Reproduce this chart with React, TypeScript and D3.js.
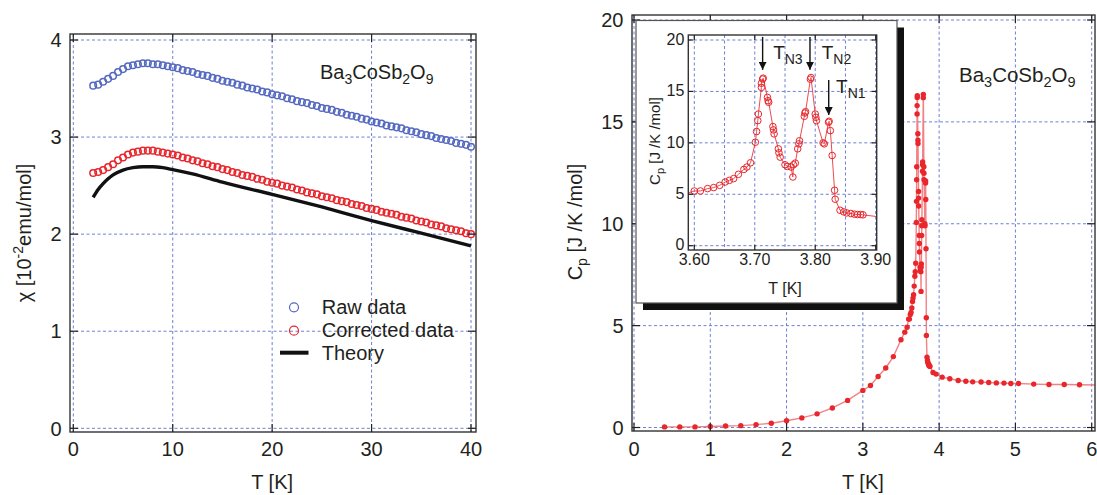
import React from "react";
import * as d3 from "d3";

const FONT = "'Liberation Sans', Arial, Helvetica, sans-serif";
const TEXT = "#231f20";
const GRID = "#6f80d2";
const BLUE = "#5569c0";
const RED = "#e8262c";

// ---------- Left panel: susceptibility ----------
const chiT = [
  2, 2.5, 3, 3.5, 4, 4.5, 5, 5.5, 6, 6.5, 7, 7.5, 8, 8.5, 9, 9.5, 10,
  10.5, 11, 11.5, 12, 12.5, 13, 13.5, 14, 14.5, 15, 15.5, 16, 16.5, 17, 17.5, 18, 18.5, 19, 19.5, 20,
  20.5, 21, 21.5, 22, 22.5, 23, 23.5, 24, 24.5, 25, 25.5, 26, 26.5, 27, 27.5, 28, 28.5, 29, 29.5, 30,
  30.5, 31, 31.5, 32, 32.5, 33, 33.5, 34, 34.5, 35, 35.5, 36, 36.5, 37, 37.5, 38, 38.5, 39, 39.5, 40,
];
const rawChi = [
  3.53, 3.54, 3.57, 3.6, 3.63, 3.67, 3.7, 3.73, 3.74, 3.75, 3.76, 3.76, 3.75, 3.75, 3.74, 3.73, 3.72,
  3.71, 3.69, 3.68, 3.67, 3.65, 3.64, 3.63, 3.61, 3.6, 3.58, 3.57, 3.56, 3.54, 3.53, 3.51, 3.5, 3.49, 3.47, 3.46, 3.44,
  3.43, 3.42, 3.4, 3.39, 3.37, 3.36, 3.35, 3.33, 3.32, 3.3, 3.29, 3.28, 3.26, 3.25, 3.23, 3.22, 3.21, 3.19, 3.18, 3.16,
  3.15, 3.14, 3.12, 3.11, 3.1, 3.09, 3.07, 3.06, 3.05, 3.03, 3.02, 3.01, 2.99, 2.98, 2.97, 2.96, 2.94, 2.93, 2.92, 2.9,
];
const corrChi = [
  2.63, 2.64, 2.66, 2.69, 2.72, 2.76, 2.79, 2.82, 2.84, 2.85, 2.86, 2.86, 2.86, 2.85, 2.84, 2.83, 2.82,
  2.81, 2.79, 2.78, 2.76, 2.75, 2.73, 2.72, 2.7, 2.69, 2.67, 2.66, 2.64, 2.63, 2.61, 2.6, 2.59, 2.57, 2.56, 2.54, 2.53,
  2.52, 2.5, 2.49, 2.48, 2.46, 2.45, 2.43, 2.42, 2.41, 2.39, 2.38, 2.37, 2.35, 2.34, 2.33, 2.31, 2.3, 2.29, 2.27, 2.26,
  2.25, 2.23, 2.22, 2.21, 2.2, 2.18, 2.17, 2.16, 2.14, 2.13, 2.12, 2.1, 2.09, 2.08, 2.06, 2.05, 2.04, 2.03, 2.01, 2.0,
];
const theoryT = [2, 2.5, 3, 3.5, 4, 5, 6, 7, 8, 9, 10, 12, 15, 20, 25, 30, 35, 40];
const theoryChi = [2.38, 2.46, 2.52, 2.57, 2.61, 2.66, 2.685, 2.695, 2.695, 2.685, 2.665, 2.62, 2.535, 2.41, 2.28, 2.14, 2.01, 1.88];
const chiXTicks = [0, 10, 20, 30, 40];
const chiYTicks = [0, 1, 2, 3, 4];
const legendItems = ["Raw data", "Corrected data", "Theory"];

// ---------- Right panel: specific heat ----------
const cpLowT = [0.4, 0.6, 0.8, 1.0, 1.2, 1.4, 1.6, 1.8, 2.0, 2.2, 2.4, 2.6, 2.8, 3.0, 3.1, 3.2, 3.3, 3.4, 3.5, 3.55, 3.58];
const cpLow = [0.03, 0.03, 0.03, 0.05, 0.07, 0.09, 0.14, 0.21, 0.33, 0.47, 0.67, 0.96, 1.33, 1.82, 2.06, 2.5, 2.92, 3.48, 4.31, 4.68, 4.92];
const cpCritT = [
  3.6, 3.61, 3.622, 3.632, 3.642, 3.651, 3.658, 3.665, 3.673, 3.682, 3.687, 3.693, 3.701, 3.703, 3.705, 3.706,
  3.711, 3.711, 3.713, 3.714, 3.721, 3.722, 3.723, 3.73, 3.731, 3.732, 3.739, 3.74, 3.742, 3.75, 3.754, 3.76,
  3.763, 3.764, 3.767, 3.771, 3.773, 3.774, 3.782, 3.783, 3.784, 3.792, 3.793, 3.8, 3.801, 3.802, 3.813, 3.815,
  3.822, 3.823, 3.825, 3.828, 3.832, 3.833, 3.841, 3.847, 3.852, 3.859, 3.865, 3.87, 3.875, 3.879,
];
const cpCrit = [
  5.32, 5.32, 5.55, 5.65, 5.87, 6.19, 6.35, 6.52, 6.94, 7.42, 7.65, 8.06, 10.06, 11.1, 12.16, 12.8,
  15.39, 15.8, 16.2, 16.29, 14.42, 14.1, 13.94, 11.58, 11.26, 10.87, 9.42, 9.03, 8.61, 7.87, 7.71, 7.65,
  6.68, 7.87, 8.03, 9.42, 9.9, 10.2, 12.58, 12.9, 13.03, 16.19, 16.35, 12.8, 12.48, 12.16, 10.0, 9.9,
  12.0, 12.1, 11.19, 8.77, 5.39, 4.52, 3.45, 3.29, 3.19, 3.13, 3.06, 3.03, 3.03, 3.0,
];
const cpHighT = [3.92, 3.96, 4.04, 4.14, 4.25, 4.35, 4.44, 4.55, 4.65, 4.75, 4.85, 4.94, 5.04, 5.24, 5.44, 5.64, 5.84, 6.1];
const cpHigh = [2.7, 2.62, 2.47, 2.39, 2.31, 2.27, 2.24, 2.23, 2.21, 2.19, 2.18, 2.16, 2.16, 2.13, 2.11, 2.11, 2.1, 2.08];
const cpXTicks = [0, 1, 2, 3, 4, 5, 6];
const cpYTicks = [0, 5, 10, 15, 20];
const insetXTicks = [3.6, 3.7, 3.8, 3.9];
const insetXGrid = [3.6, 3.65, 3.7, 3.75, 3.8, 3.85, 3.9];
const insetYTicks = [0, 5, 10, 15, 20];
const arrowLabels = ["N3", "N2", "N1"];
const arrowT = [3.713, 3.7913, 3.8223];
const arrowTop = [20.3, 20.3, 16.1];
const arrowTip = [17.1, 17.1, 12.7];
const arrowTextCp = [18.2, 18.2, 14.8];
const arrowTextDx = [10.5, 11.7, 7.4];

// ---------- geometry ----------
const LF = { x0: 70, x1: 476, y0: 34, y1: 432 };
const xL = d3.scaleLinear().domain([0, 40]).range([73.3, 471]);
const yL = d3.scaleLinear().domain([0, 4]).range([428.3, 40]);

const RF = { x0: 632, x1: 1095, y0: 15, y1: 431 };
const xR = d3.scaleLinear().domain([0, 6]).range([634, 1091.7]);
const yR = d3.scaleLinear().domain([0, 20]).range([427.5, 20]);

const BOX = { x: 636, y: 20.5, w: 261, h: 282.5 };
const IF = { x0: 688.3, x1: 876.7, y0: 35, y1: 250 };
const xI = d3.scaleLinear().domain([3.6, 3.9]).range([694.3, 875.7]);
const yI = d3.scaleLinear().domain([0, 20]).range([245.7, 40]);

function Frame({ f, xs, ys, xTicks, yTicks, xGrid }: any) {
  const gx = xGrid || xTicks;
  return (
    <g>
      {gx.map((t: number, i: number) => (
        <line key={"gx" + i} x1={xs(t)} x2={xs(t)} y1={f.y0} y2={f.y1} stroke={GRID} strokeWidth={1} strokeDasharray="3,2.5" />
      ))}
      {yTicks.map((t: number, i: number) => (
        <line key={"gy" + i} x1={f.x0} x2={f.x1} y1={ys(t)} y2={ys(t)} stroke={GRID} strokeWidth={1} strokeDasharray="3,2.5" />
      ))}
    </g>
  );
}

function FrameTicks({ f, xs, ys, xTicks, yTicks, tick }: any) {
  return (
    <g stroke="#222" strokeWidth={1.2}>
      <rect x={f.x0} y={f.y0} width={f.x1 - f.x0} height={f.y1 - f.y0} fill="none" stroke="#333" strokeWidth={1.4} />
      {xTicks.map((t: number, i: number) => (
        <g key={"tx" + i}>
          <line x1={xs(t)} x2={xs(t)} y1={f.y1} y2={f.y1 - tick} />
          <line x1={xs(t)} x2={xs(t)} y1={f.y0} y2={f.y0 + tick} />
        </g>
      ))}
      {yTicks.map((t: number, i: number) => (
        <g key={"ty" + i}>
          <line x1={f.x0} x2={f.x0 + tick} y1={ys(t)} y2={ys(t)} />
          <line x1={f.x1} x2={f.x1 - tick} y1={ys(t)} y2={ys(t)} />
        </g>
      ))}
    </g>
  );
}

export default function App() {
  const rawPts = chiT.map((t, i) => [t, rawChi[i]]);
  const corrPts = chiT.map((t, i) => [t, corrChi[i]]);
  const theoryLine = d3
    .line<number>()
    .x((_, i) => xL(theoryT[i]))
    .y((d) => yL(d))
    .curve(d3.curveMonotoneX)(theoryChi);

  const allT = [...cpLowT, ...cpCritT, ...cpHighT];
  const allCp = [...cpLow, ...cpCrit, ...cpHigh];
  const cpPts = allT.map((t, i) => [t, allCp[i]]);
  const mainLine = d3.line<number[]>().x((d) => xR(d[0])).y((d) => yR(d[1]))(cpPts);
  const insetLine = d3.line<number[]>().x((d) => xI(d[0])).y((d) => yI(d[1]))(cpPts);

  const tickFont = 20;
  const insetFont = 16;

  return (
    <svg width={1097} height={495} viewBox="0 0 1097 495" style={{ display: "block", position: "absolute", left: 0, top: 0 }} fontFamily={FONT}>
      <defs>
        <clipPath id="clipL"><rect x={LF.x0} y={LF.y0} width={LF.x1 - LF.x0} height={LF.y1 - LF.y0} /></clipPath>
        <clipPath id="clipR"><rect x={RF.x0} y={RF.y0} width={RF.x1 - RF.x0} height={RF.y1 - RF.y0} /></clipPath>
        <clipPath id="clipI"><rect x={IF.x0} y={IF.y0} width={IF.x1 - IF.x0} height={IF.y1 - IF.y0} /></clipPath>
        <marker id="ah" viewBox="0 0 10 10" refX="10" refY="5" markerWidth="8" markerHeight="8" markerUnits="userSpaceOnUse" orient="auto">
          <path d="M0,0 L10,5 L0,10 z" fill="#111" />
        </marker>
      </defs>
      <rect x={0} y={0} width={1097} height={495} fill="#fff" />

      {/* ================= LEFT PANEL ================= */}
      <Frame f={LF} xs={xL} ys={yL} xTicks={chiXTicks} yTicks={chiYTicks} />
      <g clipPath="url(#clipL)">
        {rawPts.map((d, i) => (
          <circle key={"r" + i} cx={xL(d[0])} cy={yL(d[1])} r={3.3} fill="none" stroke={BLUE} strokeWidth={1.5} />
        ))}
        {corrPts.map((d, i) => (
          <circle key={"c" + i} cx={xL(d[0])} cy={yL(d[1])} r={3.3} fill="none" stroke={RED} strokeWidth={1.5} />
        ))}
        <path d={theoryLine || ""} fill="none" stroke="#111" strokeWidth={3.4} />
      </g>
      <FrameTicks f={LF} xs={xL} ys={yL} xTicks={chiXTicks} yTicks={chiYTicks} tick={8} />
      <g fill={TEXT} fontSize={tickFont}>
        {chiYTicks.map((t, i) => (
          <text key={"ly" + i} x={LF.x0 - 8.5} y={yL(t)} dy="0.36em" textAnchor="end">{t}</text>
        ))}
        {chiXTicks.map((t, i) => (
          <text key={"lx" + i} x={xL(t)} y={455.5} textAnchor="middle">{t}</text>
        ))}
        <text x={xL(20)} y={489} textAnchor="middle">T [K]</text>
        <text transform={`translate(31,233) rotate(-90)`} textAnchor="middle">
          χ [10<tspan dy="-8" fontSize={14}>-2</tspan><tspan dy="8">emu/mol]</tspan>
        </text>
        <text x={320} y={79} fontSize={20}>
          Ba<tspan dy="5" fontSize={14}>3</tspan><tspan dy="-5">CoSb</tspan><tspan dy="5" fontSize={14}>2</tspan><tspan dy="-5">O</tspan><tspan dy="5" fontSize={14}>9</tspan>
        </text>
      </g>
      {/* legend */}
      <g>
        <circle cx={294} cy={307.3} r={4.5} fill="none" stroke={BLUE} strokeWidth={1.2} />
        <circle cx={294} cy={330.7} r={4.5} fill="none" stroke={RED} strokeWidth={1.2} />
        <line x1={280} x2={308.5} y1={352.7} y2={352.7} stroke="#111" strokeWidth={4} />
        {legendItems.map((s, i) => (
          <text key={"lg" + i} x={321.7} y={314 + i * 23} fontSize={20} fill={TEXT}>{s}</text>
        ))}
      </g>

      {/* ================= RIGHT PANEL ================= */}
      <Frame f={RF} xs={xR} ys={yR} xTicks={cpXTicks} yTicks={cpYTicks} />
      <g clipPath="url(#clipR)">
        <path d={mainLine || ""} fill="none" stroke="#f06b6e" strokeOpacity={0.85} strokeWidth={1.4} />
        {cpPts.map((d, i) => (
          <circle key={"m" + i} cx={xR(d[0])} cy={yR(d[1])} r={2.7} fill={RED} />
        ))}
      </g>
      <FrameTicks f={RF} xs={xR} ys={yR} xTicks={cpXTicks} yTicks={cpYTicks} tick={8} />
      <g fill={TEXT} fontSize={tickFont}>
        {cpYTicks.map((t, i) => (
          <text key={"ry" + i} x={RF.x0 - 8.5} y={yR(t)} dy="0.36em" textAnchor="end">{t}</text>
        ))}
        {cpXTicks.map((t, i) => (
          <text key={"rx" + i} x={xR(t)} y={455.5} textAnchor="middle">{t}</text>
        ))}
        <text x={xR(3)} y={489} textAnchor="middle">T [K]</text>
        <text transform={`translate(582,222) rotate(-90)`} textAnchor="middle">
          C<tspan dy="5" fontSize={14}>p</tspan><tspan dy="-5"> [J /K /mol]</tspan>
        </text>
        <text x={959} y={82} fontSize={20.5}>
          Ba<tspan dy="5" fontSize={14.5}>3</tspan><tspan dy="-5">CoSb</tspan><tspan dy="5" fontSize={14.5}>2</tspan><tspan dy="-5">O</tspan><tspan dy="5" fontSize={14.5}>9</tspan>
        </text>
      </g>

      {/* ================= INSET ================= */}
      <rect x={BOX.x + 7} y={BOX.y + 7} width={BOX.w} height={BOX.h} fill="#111" />
      <rect x={BOX.x} y={BOX.y} width={BOX.w} height={BOX.h} fill="#fff" stroke="#555" strokeWidth={1.2} />
      <Frame f={IF} xs={xI} ys={yI} xTicks={insetXTicks} xGrid={insetXGrid} yTicks={insetYTicks} />
      <g clipPath="url(#clipI)">
        <path d={insetLine || ""} fill="none" stroke="#eb4a4f" strokeWidth={1} />
        {cpPts.map((d, i) => (
          <circle key={"i" + i} cx={xI(d[0])} cy={yI(d[1])} r={3.3} fill="none" stroke={RED} strokeWidth={1} />
        ))}
      </g>
      <FrameTicks f={IF} xs={xI} ys={yI} xTicks={insetXTicks} yTicks={insetYTicks} tick={5} />
      <g fill={TEXT} fontSize={insetFont}>
        {insetYTicks.map((t, i) => (
          <text key={"iy" + i} x={IF.x0 - 4} y={yI(t) - 1} dy="0.36em" textAnchor="end">{t}</text>
        ))}
        {insetXTicks.map((t, i) => (
          <text key={"ix" + i} x={xI(t)} y={265} textAnchor="middle">{t.toFixed(2)}</text>
        ))}
        <text x={xI(3.75)} y={294} textAnchor="middle">T [K]</text>
        <text transform={`translate(660,141) rotate(-90)`} textAnchor="middle" fontSize={15}>
          C<tspan dy="4" fontSize={11}>p</tspan><tspan dy="-4"> [J /K /mol]</tspan>
        </text>
      </g>
      {arrowLabels.map((s, i) => (
        <g key={"ar" + i}>
          <line x1={xI(arrowT[i])} x2={xI(arrowT[i])} y1={yI(arrowTop[i])} y2={yI(arrowTip[i])} stroke="#111" strokeWidth={1.4} markerEnd="url(#ah)" />
          <text x={xI(arrowT[i]) + arrowTextDx[i]} y={yI(arrowTextCp[i])} fontSize={19} fill={TEXT}>
            T<tspan dy="5" fontSize={14}>{s}</tspan>
          </text>
        </g>
      ))}
    </svg>
  );
}
